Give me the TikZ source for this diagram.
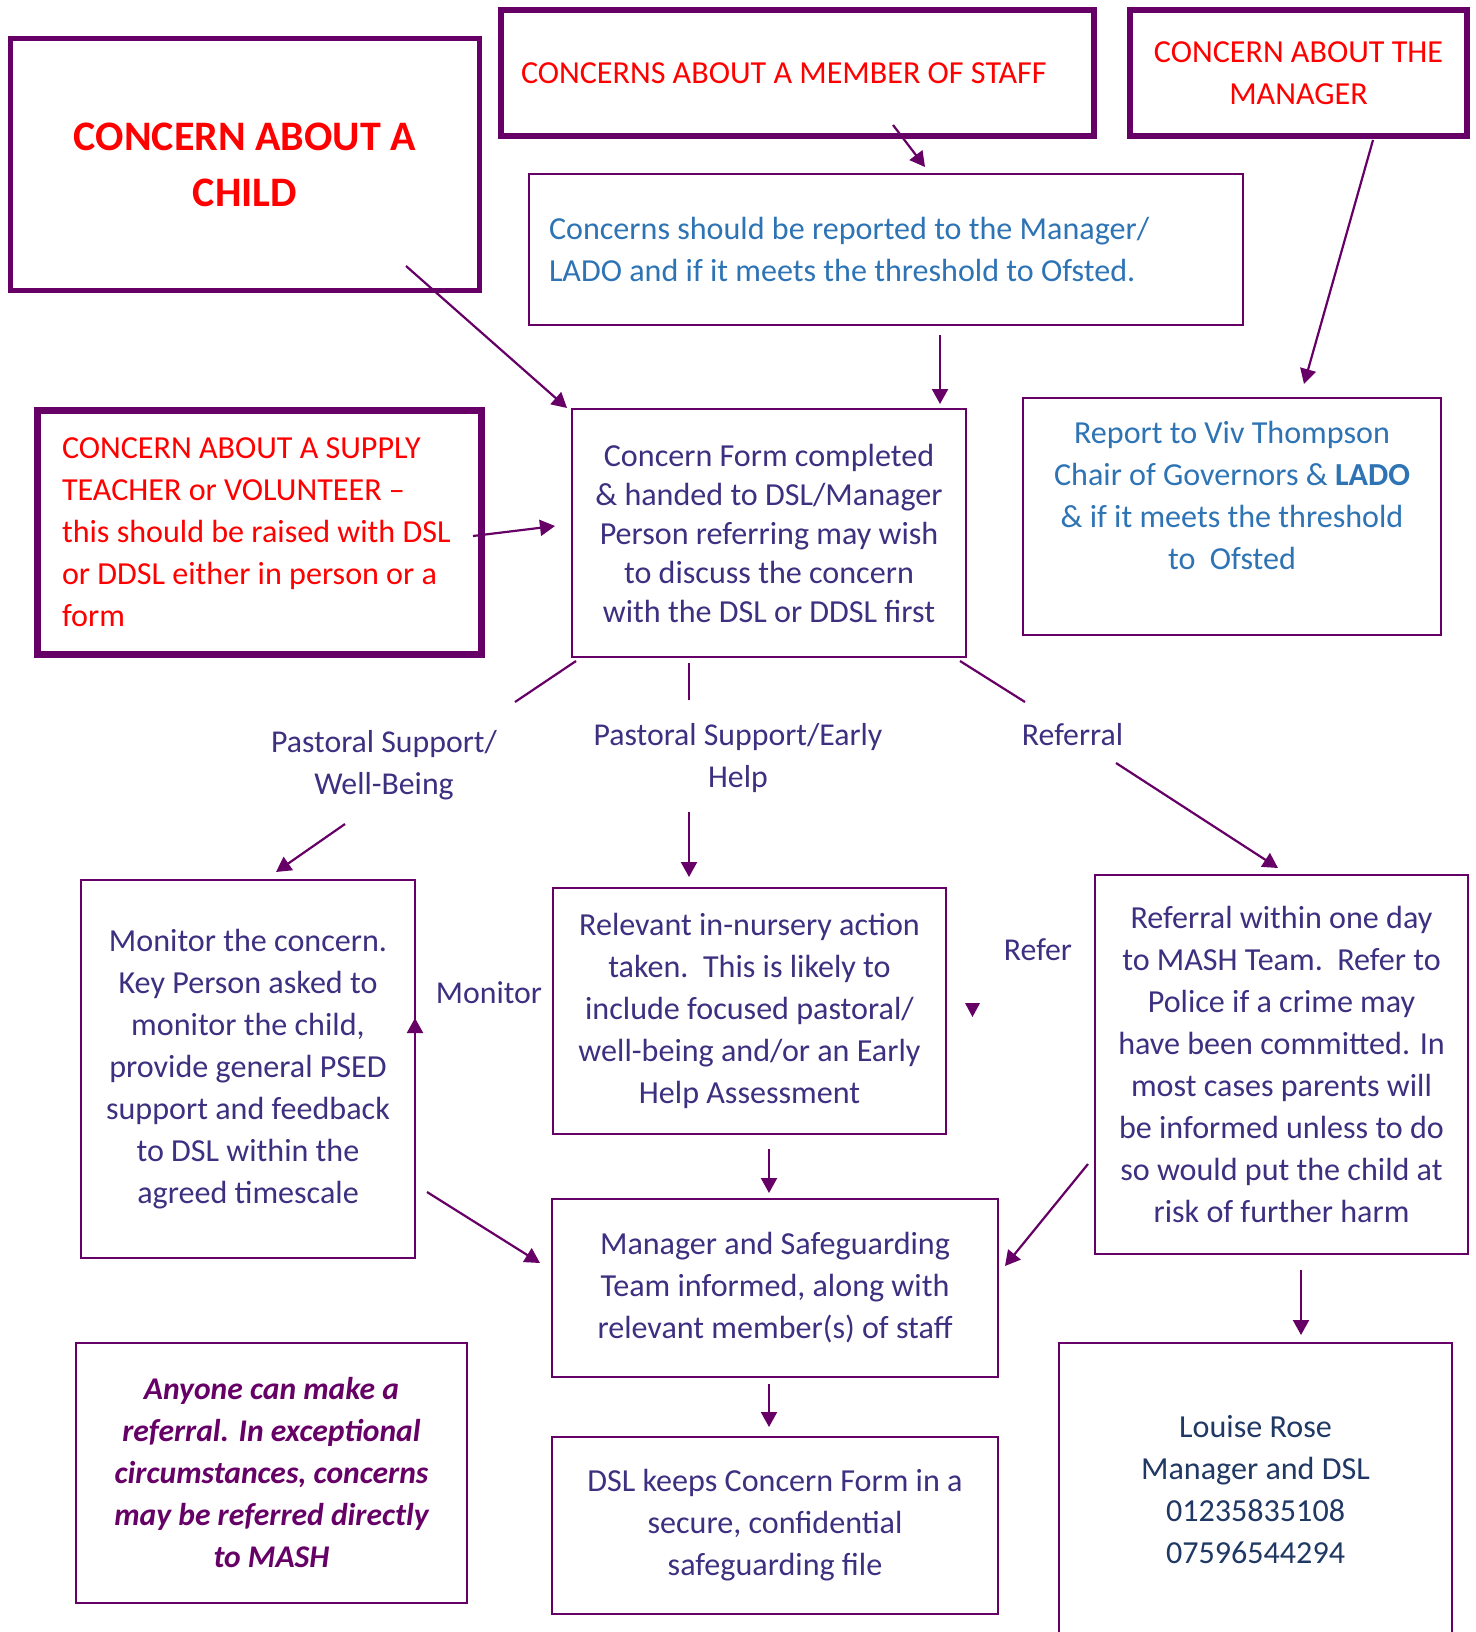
\documentclass[tikz,border=0pt]{standalone}
\usepackage{fontspec}
\setmainfont{Carlito}
\usetikzlibrary{arrows.meta,calc}
\definecolor{bord}{HTML}{660066}
\definecolor{txt}{RGB}{60,48,128}
\definecolor{redt}{HTML}{FF0000}
\definecolor{bluet}{HTML}{2E74B5}
\definecolor{navyt}{HTML}{1F3864}
\definecolor{purt}{HTML}{660066}
\begin{document}
\begin{tikzpicture}[x=1pt,y=-1pt,
  box/.style={draw=bord, line width=2.5pt, inner sep=0pt, outer sep=0pt, align=center, text=txt, font=\fontsize{32.1}{42}\selectfont},
  heavybox/.style={box, line width=6pt},
  conn/.style={draw=bord, line width=2.2pt, -{Triangle[length=15pt,width=16pt]}},
  link/.style={draw=bord, line width=2.2pt},
  lbl/.style={inner sep=0pt, outer sep=0pt, text=txt, font=\fontsize{31.8}{42}\selectfont, align=center},
]
\useasboundingbox[fill=white] (0,0) rectangle (1475,1632);

% top row
\node[heavybox, line width=5pt, minimum width=469pt, minimum height=252pt, text=redt, font=\bfseries\fontsize{42}{56}\selectfont] (child) at (245,164.5) {CONCERN ABOUT A\\CHILD};
\node[heavybox, minimum width=593pt, minimum height=126pt, text=redt, text width=553pt, align=flush left] (staff) at (797.5,73) {\mbox{CONCERNS ABOUT A MEMBER OF STAFF}};
\node[heavybox, minimum width=337pt, minimum height=126pt, text=redt] (mgr) at (1298.5,73) {CONCERN ABOUT THE\\MANAGER};
\node[box, line width=2pt, minimum width=714pt, minimum height=151pt, text=bluet, text width=674pt, align=flush left] (ofsted) at (886,249.5) {\mbox{Concerns should be reported to the Manager/}\\\mbox{LADO and if it meets the threshold to Ofsted.}};

% second row
\node[heavybox, line width=7pt, minimum width=444pt, minimum height=244pt, text=redt, text width=395pt, align=flush left] (supply) at (259.5,532.5) {\mbox{CONCERN ABOUT A SUPPLY}\\\mbox{TEACHER or VOLUNTEER –}\\\mbox{this should be raised with DSL}\\\mbox{or DDSL either in person or a}\\\mbox{form}};
\node[box, minimum width=394pt, minimum height=248pt, font=\fontsize{32.1}{39}\selectfont] (form) at (769,533) {Concern Form completed\\\& handed to DSL/Manager\\Person referring may wish\\to discuss the concern\\with the DSL or DDSL first};
\node[box, minimum width=418pt, minimum height=237pt, text=bluet] (viv) at (1232,516.5) {Report to Viv Thompson\\Chair of Governors \& \textbf{LADO}\\\& if it meets the threshold\\to\ \ Ofsted\\\mbox{}};

% labels
\node[lbl] (ps1) at (384,765.5) {Pastoral Support/\\Well-Being};
\node[lbl] (ps2) at (738,758) {Pastoral Support/Early\\Help};
\node[lbl, anchor=base] (ref) at (1072.5,745) {Referral};
\node[lbl, anchor=base] (mon) at (489,1003) {Monitor};
\node[lbl, anchor=base] (refer) at (1038,960) {Refer};

% third row
\node[box, minimum width=334pt, minimum height=378pt] (monitor) at (248,1069) {Monitor the concern.\\Key Person asked to\\monitor the child,\\provide general PSED\\support and feedback\\to DSL within the\\agreed timescale};
\node[box, minimum width=393pt, minimum height=246pt] (relevant) at (749.5,1011) {Relevant in-nursery action\\taken.\ \ This is likely to\\include focused pastoral/\\well-being and/or an Early\\Help Assessment};
\node[box, minimum width=373pt, minimum height=379pt] (mash) at (1281.5,1064.5) {Referral within one day\\to MASH Team.\ \ Refer to\\Police if a crime may\\have been committed. In\\most cases parents will\\be informed unless to do\\so would put the child at\\risk of further harm};

% bottom
\node[box, minimum width=446pt, minimum height=178pt] (ms) at (775,1288) {Manager and Safeguarding\\Team informed, along with\\relevant member(s) of staff};
\node[box, minimum width=446pt, minimum height=177pt] (dsl) at (775,1525.5) {DSL keeps Concern Form in a\\secure, confidential\\safeguarding file};
\node[box, minimum width=393pt, minimum height=294pt, text=navyt] (louise) at (1255.5,1490) {Louise Rose\\Manager and DSL\\01235835108\\07596544294};
\node[box, minimum width=391pt, minimum height=260pt, text=purt, font=\bfseries\itshape\fontsize{31.6}{42}\selectfont] (anyone) at (271.5,1473) {Anyone can make a\\referral. In exceptional\\circumstances, concerns\\may be referred directly\\to MASH};

% connectors
\draw[conn] ($(staff.south)+(95.5,-11)$) -- ($(ofsted.north)+(39,-7)$);
\draw[conn] ($(mgr.south)+(74.5,4)$) -- ($(viv.north)+(72,-14)$);
\draw[conn] ($(ofsted.south)+(54,10)$) -- ($(form.north)+(171,-5)$);
\draw[conn] ($(child.south east)+(-73.5,-24.5)$) -- ($(form.north west)+(-5,-1)$);
\draw[conn] ($(supply.east)+(-8.5,3.5)$) -- ($(form.west)+(-17,-7)$);
\draw[link] ($(form.south west)+(4,4)$) -- ($(ps1.center)+(131,-63.5)$);
\draw[link] ($(form.south)+(-80,6)$) -- ($(ps2.center)+(-49,-58)$);
\draw[link] ($(form.south east)+(-6,4)$) -- ($(ref.base)+(-47.5,-43)$);
\draw[conn] ($(ps1.center)+(-39,58.5)$) -- ($(monitor.north)+(28,-8)$);
\draw[conn] ($(ps2.center)+(-49,54)$) -- ($(relevant.north)+(-60.5,-11)$);
\draw[conn] ($(ref.base)+(43.5,18)$) -- ($(mash.north)+(-3.5,-7)$);
\draw[conn] (monitor.south east) -- ($(monitor.south east)+(0,-240)$);
\draw[conn] ($(relevant.south)+(19.5,15)$) -- ($(ms.north)+(-6,-6)$);
\draw[conn] ($(monitor.south east)+(12,-66)$) -- ($(ms.west)+(-12,-25)$);
\draw[conn] ($(mash.south west)+(-7,-90)$) -- ($(ms.east)+(7,-22)$);
\draw[conn] ($(ms.south)+(-6,7)$) -- ($(dsl.north)+(-6,-10)$);
\draw[conn] ($(mash.south)+(19.5,16)$) -- ($(louise.north)+(45.5,-8)$);
\fill[bord] (965,1003) -- (980,1003) -- (972.5,1017) -- cycle;
\end{tikzpicture}
\end{document}
